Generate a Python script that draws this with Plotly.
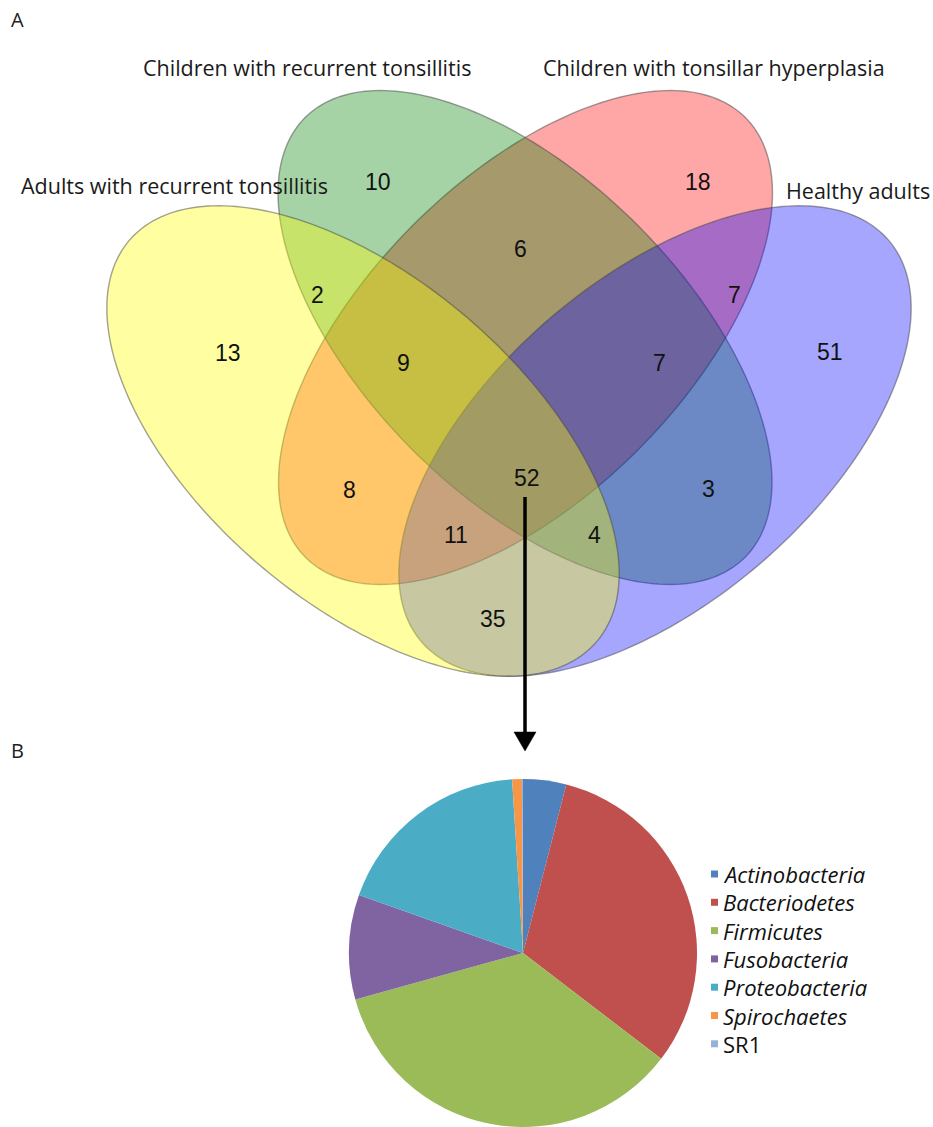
import numpy as np
import plotly.graph_objects as go

W, H = 933, 1127

# ---------------- data ----------------
set_names = ["Adults with recurrent tonsillitis",
             "Children with recurrent tonsillitis",
             "Children with tonsillar hyperplasia",
             "Healthy adults"]

# region counts of the 4-set Venn diagram
region_counts = [13, 10, 18, 51, 2, 6, 7, 9, 7, 8, 3, 52, 11, 4, 35]

phyla = ["Actinobacteria", "Bacteriodetes", "Firmicutes", "Fusobacteria",
         "Proteobacteria", "Spirochaetes", "SR1"]
abundance = [4.0, 31.4, 35.3, 9.7, 18.6, 0.9, 0.1]

# ---------------- layout / style ----------------
region_pos = [(228, 353), (378, 182), (698, 182), (830, 352), (317, 295),
              (520, 249), (734, 295), (403, 363), (659, 363), (349, 490),
              (708, 489), (527, 478), (456, 535), (594, 535), (493, 619)]

label_pos = [(174, 185, "center"), (307, 67, "center"),
             (714, 67, "center"), (858, 190, "center")]

# ellipse geometry: center x, center y, semi-major, semi-minor, angle (deg, screen coords)
ellipse_geom = {
    "Children with tonsillar hyperplasia": (525.5, 337.5, 311, 159, -45.0),
    "Children with recurrent tonsillitis": (525.0, 337.5, 311, 159, 45.0),
    "Healthy adults": (655.0, 441.0, 308, 161.5, -40.7),
    "Adults with recurrent tonsillitis": (363.0, 441.0, 308, 161.5, 40.7),
}
ellipse_fill = {
    "Children with tonsillar hyperplasia": "rgba(255,0,0,0.35)",
    "Children with recurrent tonsillitis": "rgba(0,128,0,0.35)",
    "Healthy adults": "rgba(0,0,255,0.35)",
    "Adults with recurrent tonsillitis": "rgba(255,255,0,0.37)",
}
draw_order = ["Children with tonsillar hyperplasia",
              "Children with recurrent tonsillitis",
              "Healthy adults",
              "Adults with recurrent tonsillitis"]

pie_colors = ["#4F81BD", "#C0504D", "#9BBB59", "#8064A2",
              "#4BACC6", "#F79646", "#95B3D7"]


def ellipse_path(cx, cy, a, b, ang_deg, n=240):
    t = np.linspace(0, 2 * np.pi, n, endpoint=False)
    phi = np.deg2rad(ang_deg)
    dx, dy = np.cos(phi), np.sin(phi)
    nx, ny = -np.sin(phi), np.cos(phi)
    x = cx + a * np.cos(t) * dx + b * np.sin(t) * nx
    y = cy + a * np.cos(t) * dy + b * np.sin(t) * ny
    return "M " + " L ".join(f"{xi:.2f},{yi:.2f}" for xi, yi in zip(x, y)) + " Z"


fig = go.Figure()

shapes = []
for name in draw_order:
    cx, cy, a, b, ang = ellipse_geom[name]
    shapes.append(dict(type="path", xref="x", yref="y",
                       path=ellipse_path(cx, cy, a, b, ang),
                       fillcolor=ellipse_fill[name],
                       line=dict(color="rgba(70,70,70,0.5)", width=1.4),
                       layer="above"))

# arrow from the shared region to the pie chart
shapes.append(dict(type="line", xref="x", yref="y", x0=525, y0=497, x1=525, y1=736,
                   line=dict(color="black", width=3.5), layer="above"))
shapes.append(dict(type="path", xref="x", yref="y",
                   path="M 514,732 L 536,732 L 525,751 Z",
                   fillcolor="black", line=dict(color="black", width=0.5), layer="above"))

annotations = []
# panel letters
annotations.append(dict(x=17, y=19, xref="x", yref="y", text="A", showarrow=False,
                        font=dict(family="Open Sans", size=20, color="#222"),
                        xanchor="center", yanchor="middle"))
annotations.append(dict(x=17, y=750, xref="x", yref="y", text="B", showarrow=False,
                        font=dict(family="Open Sans", size=20, color="#222"),
                        xanchor="center", yanchor="middle"))

for name, (lx, ly, anc) in zip(set_names, label_pos):
    annotations.append(dict(x=lx, y=ly, xref="x", yref="y", text=name, showarrow=False,
                            font=dict(family="Open Sans", size=21.5, color="#1a1a1a"),
                            xanchor=anc, yanchor="middle"))

for cnt, (px, py) in zip(region_counts, region_pos):
    annotations.append(dict(x=px, y=py, xref="x", yref="y", text=str(cnt), showarrow=False,
                            font=dict(family="Liberation Sans, Arial", size=23, color="#111"),
                            xanchor="center", yanchor="middle"))

# custom legend for the pie
leg_x, leg_y0, leg_dy = 714.5, 874, 28.3
for i, (ph, col) in enumerate(zip(phyla, pie_colors)):
    yy = leg_y0 + i * leg_dy
    shapes.append(dict(type="rect", xref="x", yref="y", x0=leg_x - 3.5, x1=leg_x + 3.5,
                       y0=yy - 3.5, y1=yy + 3.5, fillcolor=col, line=dict(width=0)))
    txt = ph if ph == "SR1" else f"<i>{ph}</i>"
    annotations.append(dict(x=leg_x + 6, y=yy, xref="x", yref="y", text=txt, showarrow=False,
                            font=dict(family="Open Sans", size=22, color="#111"),
                            xanchor="left", yanchor="middle"))

# pie chart
pie_cx, pie_cy, pie_r = 523, 953, 174
fig.add_trace(go.Pie(labels=phyla, values=abundance, sort=False, direction="clockwise",
                     rotation=0, textinfo="none", hoverinfo="label+percent",
                     marker=dict(colors=pie_colors, line=dict(width=0)),
                     showlegend=False,
                     domain=dict(x=[(pie_cx - pie_r) / W, (pie_cx + pie_r) / W],
                                 y=[(H - pie_cy - pie_r) / H, (H - pie_cy + pie_r) / H])))

fig.update_layout(width=W, height=H, margin=dict(l=0, r=0, t=0, b=0),
                  paper_bgcolor="white", plot_bgcolor="white",
                  xaxis=dict(range=[0, W], visible=False, fixedrange=True),
                  yaxis=dict(range=[H, 0], visible=False, fixedrange=True),
                  shapes=shapes, annotations=annotations, showlegend=False)

fig.write_html("out.html",
               config={"displayModeBar": False},
               post_script="document.body.style.margin='0';"
                           "document.body.style.overflow='hidden';")
